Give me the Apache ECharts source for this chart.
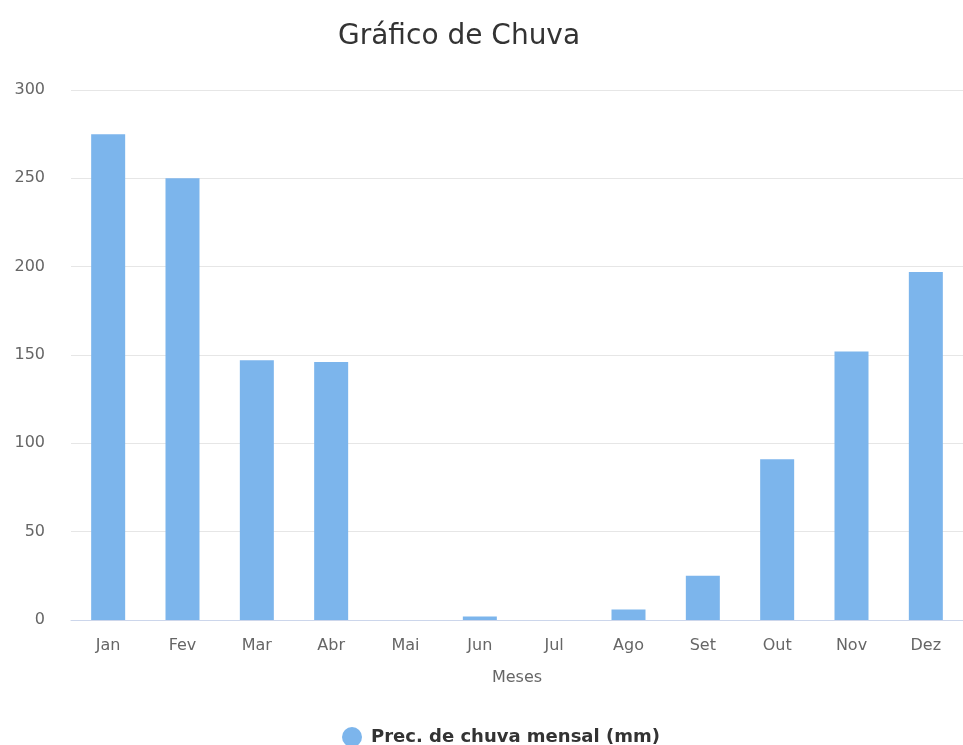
<!DOCTYPE html>
<html>
<head>
<meta charset="utf-8">
<script src="https://cdn.jsdelivr.net/npm/echarts@6/dist/echarts.min.js"></script>
<style>
  html, body { margin: 0; padding: 0; background: #fff; }
  #chart { width: 963px; height: 745px; }
</style>
</head>
<body>
<div id="chart"></div>
<script>
const meses = ['Jan', 'Fev', 'Mar', 'Abr', 'Mai', 'Jun', 'Jul', 'Ago', 'Set', 'Out', 'Nov', 'Dez']
const chuva = [275, 250, 147, 146, 0, 2, 0, 6, 25, 91, 152, 197]
const serieNome = 'Prec. de chuva mensal (mm)'

const chart = echarts.init(document.getElementById('chart'))

chart.setOption({
  animation: false,
  textStyle: { fontFamily: 'DejaVu Sans' },
  title: {
    text: 'Gráfico de Chuva',
    left: 333,
    top: 18,
    textStyle: { fontSize: 28, fontWeight: 'normal', color: '#333' }
  },
  legend: {
    top: 722,
    left: 337,
    icon: 'circle',
    itemWidth: 20,
    itemHeight: 20,
    itemGap: 10,
    textStyle: { fontSize: 18, fontWeight: 'bold', color: '#333', padding: [0, 0, 0, 4] },
    data: [serieNome]
  },
  grid: { left: 71, width: 895, top: 90, bottom: 125, containLabel: false },
  xAxis: {
    type: 'category',
    data: meses,
    name: 'Meses',
    nameLocation: 'middle',
    nameGap: 50,
    nameTextStyle: { fontSize: 16, color: '#666' },
    axisLine: { lineStyle: { color: '#ccd6eb' } },
    axisTick: { show: false },
    axisLabel: { fontSize: 16, color: '#666', margin: 18 }
  },
  yAxis: {
    type: 'value',
    min: 0,
    max: 300,
    interval: 50,
    axisLabel: { fontSize: 16, color: '#666', margin: 26 },
    splitLine: { lineStyle: { color: '#e6e6e6' } }
  },
  series: [{
    name: serieNome,
    type: 'bar',
    data: chuva,
    barWidth: 34,
    itemStyle: { color: '#7cb5ec' }
  }]
})
</script>
</body>
</html>
